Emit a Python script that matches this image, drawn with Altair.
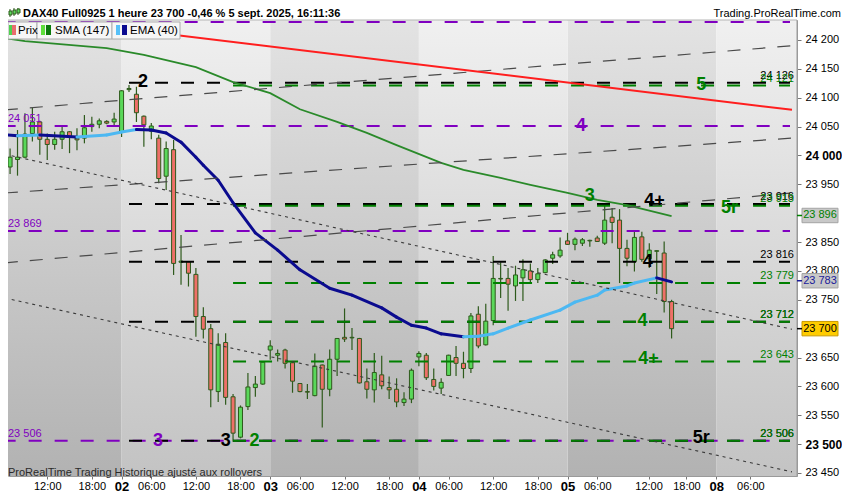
import altair as alt
import pandas as pd

# ---------------- values ----------------
# hourly bars, bar index 20 = 02 sept (first bar of the session), 20 bars per session
bar_index = list(range(5, 95))
open_ = [23980, 23993, 23997, 24038, 24058, 24028, 24019, 24028, 24041, 24030,
         24030, 24050, 24054, 24059, 24058, 24041, 24114, 24106, 24068, 24042,
         24030, 23964, 24010, 23815, 23816, 23794, 23721, 23700, 23591, 23676,
         23582, 23512, 23565, 23598, 23604, 23663, 23654, 23663, 23641, 23605,
         23591, 23584, 23637, 23595, 23647, 23685, 23684, 23683, 23608, 23594,
         23620, 23598, 23595, 23572, 23578, 23651, 23654, 23612, 23597, 23619,
         23650, 23640, 23631, 23725, 23672, 23714, 23786, 23787, 23774, 23788,
         23800, 23785, 23797, 23822, 23826, 23852, 23846, 23848, 23852, 23857,
         23848, 23893, 23888, 23839, 23816, 23859, 23821, 23834, 23831, 23747]
high = [24012, 24044, 24073, 24082, 24060, 24038, 24041, 24050, 24042, 24047,
        24070, 24067, 24064, 24061, 24074, 24113, 24122, 24119, 24069, 24056,
        24036, 24024, 24027, 23862, 23817, 23805, 23737, 23708, 23692, 23692,
        23587, 23567, 23623, 23618, 23643, 23680, 23664, 23665, 23642, 23606,
        23604, 23657, 23638, 23664, 23684, 23735, 23701, 23684, 23631, 23658,
        23653, 23617, 23614, 23590, 23631, 23661, 23658, 23631, 23614, 23655,
        23670, 23660, 23727, 23739, 23743, 23826, 23815, 23805, 23809, 23820,
        23813, 23805, 23820, 23833, 23858, 23866, 23858, 23857, 23854, 23861,
        23914, 23909, 23907, 23854, 23868, 23868, 23848, 23836, 23851, 23750]
low = [23968, 23965, 23995, 24024, 24001, 23992, 24010, 24011, 24004, 24009,
       24021, 24041, 24047, 24054, 24050, 24032, 24110, 24058, 24015, 24028,
       23952, 23940, 23793, 23776, 23773, 23686, 23683, 23564, 23573, 23568,
       23504, 23510, 23559, 23582, 23603, 23646, 23643, 23631, 23589, 23590,
       23578, 23583, 23529, 23583, 23618, 23677, 23663, 23605, 23579, 23572,
       23595, 23578, 23564, 23566, 23571, 23635, 23611, 23593, 23587, 23618,
       23618, 23614, 23623, 23666, 23671, 23706, 23753, 23731, 23748, 23748,
       23780, 23779, 23796, 23812, 23823, 23845, 23836, 23843, 23842, 23850,
       23845, 23848, 23779, 23808, 23799, 23816, 23805, 23760, 23728, 23683]
close = [23997, 23997, 24037, 24058, 24028, 24019, 24028, 24041, 24032, 24027,
         24048, 24054, 24060, 24056, 24063, 24112, 24116, 24074, 24053, 24051,
         23960, 24012, 23813, 23817, 23796, 23721, 23699, 23594, 23673, 23581,
         23519, 23564, 23599, 23604, 23642, 23670, 23657, 23640, 23609, 23591,
         23590, 23635, 23595, 23647, 23683, 23682, 23685, 23606, 23595, 23624,
         23601, 23594, 23573, 23578, 23628, 23657, 23615, 23600, 23607, 23654,
         23640, 23631, 23722, 23670, 23713, 23787, 23787, 23777, 23793, 23802,
         23785, 23795, 23819, 23828, 23836, 23846, 23855, 23854, 23853, 23851,
         23888, 23884, 23839, 23822, 23858, 23820, 23836, 23835, 23747, 23700]

sma_bar = [4, 7, 18, 23, 30, 35, 40, 44, 49, 53, 57, 63, 66, 71, 75, 80, 84, 88, 94]
sma_val = [24204, 24198, 24186, 24174, 24153, 24127, 24108, 24080, 24058, 24039,
           24018, 23987, 23975, 23961, 23949, 23935, 23923, 23914, 23895]

ema_bar = [4, 6, 9, 14, 18, 20, 22, 24, 26, 28, 30, 31, 33, 35, 38, 41, 44, 48, 51,
           55, 57, 59, 61, 63, 66, 68, 70, 72, 75, 79, 81, 84, 85, 88, 89, 92, 94]
ema_val = [24036, 24034, 24035.5, 24032, 24035.5, 24040.7, 24045, 24044, 24039, 24023,
           23997, 23983, 23957, 23918, 23866, 23836, 23802, 23770, 23758, 23736,
           23720, 23706, 23701, 23691, 23686, 23687, 23691, 23701, 23715, 23732,
           23746, 23758, 23767, 23774, 23779, 23788, 23781]

# horizontal levels (price, colour family, bar they start from)
lvl_price = [24231, 24051, 23869, 23506,
             24126, 23916, 23816, 23712, 23506,
             24121, 23913, 23779, 23712, 23643, 23506]
lvl_kind = ["purple", "purple", "purple", "purple",
            "black", "black", "black", "black", "black",
            "green", "green", "green", "green", "green", "green"]
lvl_from = [4, 4, 4, 4, 21, 21, 21, 21, 21, 35, 35, 35, 35, 35, 35]

# sloping lines: start bar/price, end bar/price
tl_kind = ["dash", "dash", "dash", "dot", "dot", "red"]
tl_bar0 = [4.3, 4.3, 4.3, 4.3, 4.3, 20]
tl_val0 = [24079, 23935, 23814, 24002, 23753, 24220]
tl_bar1 = [110.2, 110.2, 110.2, 110.2, 110.2, 110.2]
tl_val1 = [24190, 24030, 23935, 23699, 23452, 24079]

# wave annotations
ann_txt = ["2", "4", "5", "3", "4+", "5r", "4", "4", "4+", "3", "3", "2", "5r"]
ann_bar = [22.9, 81.8, 98.0, 83.0, 91.7, 101.8, 90.8, 90.1, 90.9, 24.9, 34.0, 37.9, 98.0]
ann_val = [24127, 24051, 24122, 23930, 23921, 23909, 23816, 23713, 23648, 23506, 23506, 23506, 23511]
ann_kind = ["black", "purple", "green", "green", "black", "green", "black", "green",
            "green", "purple", "black", "green", "black"]

# price tags on the axis: SMA, EMA, last price
tag_val = [23896, 23783, 23700]
tag_kind = ["sma", "ema", "last"]

# sessions (background bands)
band_from = [4, 20, 40, 60, 80, 100]
band_to = [20, 40, 60, 80, 100, 112]
band_tone = ["dark", "light", "dark", "light", "dark", "light"]

# time axis
tick_pos = [10, 16, 20, 24, 30, 36, 40, 44, 50, 56, 60, 64, 70, 76, 80, 84, 90.9, 96, 100, 104.6]
tick_txt = ["12:00", "18:00", "02", "06:00", "12:00", "18:00", "03", "06:00", "12:00", "18:00",
            "04", "06:00", "12:00", "18:00", "05", "06:00", "12:00", "18:00", "08", "06:00"]
# price axis labels (23 900 and 23 700 are hidden behind the value tags)
price_ticks = [23450, 23500, 23550, 23600, 23650, 23750, 23800, 23850,
               23950, 24000, 24050, 24100, 24150, 24200]

# ---------------- styling ----------------
FONT = "Liberation Sans"
PLOT_W, PLOT_H = 789, 456
LVL_COL = {"black": "#000000", "green": "#008000", "purple": "#8000c0"}
UP, DOWN, OUTLINE = "#5ad85a", "#ee7068", "#2e5a1c"
EMA_UP, EMA_DOWN = "#4cb8f2", "#0b0b8f"

xs = alt.Scale(domain=[5.393, 110.2], nice=False, zero=False)
ys = alt.Scale(domain=[23444.8, 24234.6], nice=False, zero=False)

lbl_expr = "''"
for p, t in reversed(list(zip(tick_pos, tick_txt))):
    lbl_expr = f"abs(datum.value - {p}) < 0.01 ? '{t}' : ({lbl_expr})"

x_axis = alt.Axis(values=tick_pos, labelExpr=lbl_expr, title=None, grid=False, orient="bottom",
                  domainColor="#9a9a9a", tickColor="#777777", tickSize=3, labelPadding=1,
                  labelFlush=False, labelOverlap=False, labelFont=FONT, labelColor="#000000",
                  labelFontSize={"condition": {"test": "datum.value % 20 == 0", "value": 13}, "value": 11},
                  labelFontWeight={"condition": {"test": "datum.value % 20 == 0", "value": "bold"}, "value": "normal"})
y_axis = alt.Axis(orient="right", values=price_ticks, title=None, grid=False,
                  labelExpr="replace(format(datum.value, ','), ',', ' ')",
                  domainColor="#9a9a9a", tickColor="#777777", tickSize=4, labelPadding=4,
                  labelFlush=False, labelOverlap=False, labelFont=FONT, labelColor="#000000",
                  labelFontSize={"condition": {"test": "datum.value % 500 == 0", "value": 12}, "value": 11},
                  labelFontWeight={"condition": {"test": "datum.value % 500 == 0", "value": "bold"}, "value": "normal"})


def X(f):
    return alt.X(f, type="quantitative", scale=xs, axis=x_axis)


def Y(f):
    return alt.Y(f, type="quantitative", scale=ys, axis=y_axis)


def fmt(p):
    return f"{int(round(p)):,}".replace(",", " ")


# ---------------- tables ----------------
cdf = pd.DataFrame({"g": bar_index, "o": open_, "h": high, "l": low, "c": close})
cdf["fill"] = [UP if c >= o else DOWN for o, c in zip(open_, close)]

sma = pd.DataFrame({"g": sma_bar, "v": sma_val})

rows = []
for i in range(len(ema_bar) - 1):
    col = EMA_UP if ema_val[i + 1] >= ema_val[i] else EMA_DOWN
    for j in (i, i + 1):
        rows.append({"seg": i, "g": ema_bar[j], "v": ema_val[j], "col": col})
ema = pd.DataFrame(rows)

lv = pd.DataFrame({"p": lvl_price, "kind": lvl_kind, "g0": lvl_from})
lv["col"] = lv["kind"].map(LVL_COL)
lv["lbl"] = lv["p"].map(fmt)

tl = pd.DataFrame({"kind": tl_kind, "g0": tl_bar0, "v0": tl_val0, "g1": tl_bar1, "v1": tl_val1})
ann = pd.DataFrame({"t": ann_txt, "g": ann_bar, "v": ann_val, "kind": ann_kind})
ann["col"] = ann["kind"].map(LVL_COL)

TAG_STYLE = {"sma": ("#c8c8c8", "#a4a4a4", "#008000"),
             "ema": ("#c8c8c8", "#a4a4a4", "#1a1a9a"),
             "last": ("#ffcc00", "#c89a00", "#000000")}
tags = pd.DataFrame({"v": tag_val, "kind": tag_kind})
tags["lo"] = tags["v"] - 12.5
tags["hi"] = tags["v"] + 12.5
tags["fill"] = tags["kind"].map(lambda k: TAG_STYLE[k][0])
tags["stroke"] = tags["kind"].map(lambda k: TAG_STYLE[k][1])
tags["tcol"] = tags["kind"].map(lambda k: TAG_STYLE[k][2])
tags["lbl"] = tags["v"].map(fmt)

bands = pd.DataFrame({"b0": band_from, "b1": band_to, "tone": band_tone})


# ---------------- layers ----------------
def band_layer(tone, top, bottom):
    grad = alt.LinearGradient(
        gradient="linear",
        stops=[alt.GradientStop(color=top, offset=0), alt.GradientStop(color=bottom, offset=1)],
        x1=0, x2=0, y1=0, y2=1)
    return (alt.Chart(bands).transform_filter(alt.datum.tone == tone)
            .mark_rect(fill=grad, clip=True)
            .encode(x=X("b0"), x2="b1", y=alt.value(0), y2=alt.value(PLOT_H)))


bg_dark = band_layer("dark", "#e3e3e3", "#b2b2b2")
bg_light = band_layer("light", "#f0f0f0", "#c3c3c3")

wicks = alt.Chart(cdf).mark_rule(color=OUTLINE, strokeWidth=1.2, clip=True).encode(
    x=X("g"), y=Y("l"), y2="h:Q")
bodies = alt.Chart(cdf).mark_bar(size=4, stroke=OUTLINE, strokeWidth=1, clip=True).encode(
    x=X("g"), y=Y("o"), y2="c", fill=alt.Fill("fill:N", scale=None))


def level_layer(kind):
    return (alt.Chart(lv).transform_filter(alt.datum.kind == kind)
            .mark_rule(strokeWidth=2, strokeDash=[13, 13], clip=True)
            .encode(x=X("g0"), x2=alt.value(782), y=Y("p"), color=alt.Color("col:N", scale=None)))


lv_purple, lv_black, lv_green = level_layer("purple"), level_layer("black"), level_layer("green")

sma_line = alt.Chart(sma).mark_line(color="#2a8a2a", strokeWidth=1.8, clip=True).encode(
    x=X("g"), y=Y("v"))
ema_line = alt.Chart(ema).mark_line(strokeWidth=3, strokeCap="round", clip=True).encode(
    x=X("g"), y=Y("v"), detail="seg:N", color=alt.Color("col:N", scale=None))

tl_dash = alt.Chart(tl).transform_filter(alt.datum.kind == "dash").mark_rule(
    color="#4a4a4a", strokeWidth=1.2, strokeDash=[13, 12], clip=True).encode(
    x=X("g0"), y=Y("v0"), x2="g1", y2="v1")
tl_dot = alt.Chart(tl).transform_filter(alt.datum.kind == "dot").mark_rule(
    color="#3a3a3a", strokeWidth=1.1, strokeDash=[3, 4], clip=True).encode(
    x=X("g0"), y=Y("v0"), x2="g1", y2="v1")
tl_red = alt.Chart(tl).transform_filter(alt.datum.kind == "red").mark_rule(
    color="#ff1e1e", strokeWidth=2, clip=True).encode(
    x=X("g0"), y=Y("v0"), x2="g1", y2="v1")

ann_text = alt.Chart(ann).mark_text(font=FONT, fontSize=18, fontWeight="bold",
                                    align="center", baseline="middle").encode(
    x=X("g"), y=Y("v"), text="t:N", color=alt.Color("col:N", scale=None))

right_lbl = (alt.Chart(lv).transform_filter(alt.datum.kind != "purple")
             .mark_text(font=FONT, fontSize=11, align="right", baseline="alphabetic", dy=-4)
             .encode(x=alt.value(786), y=Y("p"), text="lbl:N", color=alt.Color("col:N", scale=None)))
left_lbl = (alt.Chart(lv).transform_filter((alt.datum.kind == "purple") & (alt.datum.p < 24200))
            .mark_text(font=FONT, fontSize=11, align="left", baseline="alphabetic", dy=-4, color="#8000c0")
            .encode(x=alt.value(0), y=Y("p"), text="lbl:N"))

tag_box = alt.Chart(tags).mark_rect(strokeWidth=1).encode(
    x=alt.value(794), x2=alt.value(830), y=Y("lo"), y2="hi",
    fill=alt.Fill("fill:N", scale=None), stroke=alt.Stroke("stroke:N", scale=None))
tag_tick = alt.Chart(tags).mark_rule(strokeWidth=1.5).encode(
    x=alt.value(789), x2=alt.value(794), y=Y("v"), color=alt.Color("tcol:N", scale=None))
tag_txt = alt.Chart(tags).mark_text(font=FONT, fontSize=11, align="center", baseline="middle").encode(
    x=alt.value(812), y=Y("v"), text="lbl:N", color=alt.Color("tcol:N", scale=None))

# ---------------- header, legend, frame ----------------
one = pd.DataFrame({"k": [0]})


def px_rect(x0, x1, y0, y1, fill, stroke=None):
    kw = {"fill": fill}
    if stroke:
        kw.update(stroke=stroke, strokeWidth=1)
    return alt.Chart(one).mark_rect(**kw).encode(
        x=alt.value(x0), x2=alt.value(x1), y=alt.value(y0), y2=alt.value(y1))


def px_rule(x0, x1, y0, y1, color, width=1):
    return alt.Chart(one).mark_rule(color=color, strokeWidth=width).encode(
        x=alt.value(x0), x2=alt.value(x1), y=alt.value(y0), y2=alt.value(y1))


def px_text(x, y, txt, baseline="middle", **kw):
    return alt.Chart(one).mark_text(text=txt, font=FONT, baseline=baseline, **kw).encode(
        x=alt.value(x), y=alt.value(y))


header = [
    px_rule(2, 2, -11, -3, OUTLINE), px_rect(1, 4, -9, -5, UP, OUTLINE),
    px_rule(6, 6, -12, -4, OUTLINE), px_rect(5, 8, -10, -6, UP, OUTLINE),
    px_rule(10, 10, -12, -5, OUTLINE), px_rect(9, 12, -11, -7, UP, OUTLINE),
    px_text(15, -3.3, "DAX40 Full0925 1 heure 23 700 -0,46 % 5 sept. 2025, 16:11:36",
            baseline="alphabetic", fontSize=11, fontWeight="bold", align="left", color="#000000"),
    px_text(833, -3.3, "Trading.ProRealTime.com", baseline="alphabetic",
            fontSize=11, align="right", color="#000000"),
]
legend = [
    px_rect(0, 29, 2, 19, "#f6f6f6", "#acacac"),
    px_rect(29, 104, 2, 19, "#f6f6f6", "#acacac"),
    px_rect(104, 172, 2, 19, "#f6f6f6", "#acacac"),
    px_rect(1, 4, 5, 15, "#4fd14f"), px_rect(4, 8, 5, 15, "#e86d6d"),
    px_text(10, 10.5, "Prix", fontSize=11.5, align="left", color="#000000"),
    px_rect(33, 37, 5, 15, "#5ee03c"), px_rect(38, 43, 5, 15, "#0b7a0b"),
    px_text(47, 10.5, "SMA (147)", fontSize=11.5, align="left", color="#000000"),
    px_rect(108, 112, 5, 15, "#56c0f8"), px_rect(114, 119, 5, 15, "#0a0a90"),
    px_text(122, 10.5, "EMA (40)", fontSize=11.5, align="left", color="#000000"),
]
footer = [px_text(0, 453, "ProRealTime Trading  Historique ajusté aux rollovers",
                  fontSize=11, align="left", color="#2a2a2a")]
frame = [px_rule(0, PLOT_W, 0, 0, "#b5b5b5"), px_rule(PLOT_W, PLOT_W, 0, PLOT_H, "#9a9a9a")]

chart = alt.layer(
    bg_dark, bg_light,
    wicks, bodies,
    lv_purple, lv_black, lv_green,
    sma_line, ema_line,
    tl_dash, tl_dot, tl_red,
    ann_text, right_lbl, left_lbl,
    *frame,
    tag_box, tag_tick, tag_txt,
    *legend, *header, *footer,
).properties(
    width=PLOT_W, height=PLOT_H,
    padding={"left": 0, "top": 12, "right": 45, "bottom": 16},
    autosize=alt.AutoSizeParams(type="none"),
    background="#ffffff",
).configure_view(stroke=None).configure(font=FONT)

chart.save("out.html", embed_options={"renderer": "svg", "actions": False})
